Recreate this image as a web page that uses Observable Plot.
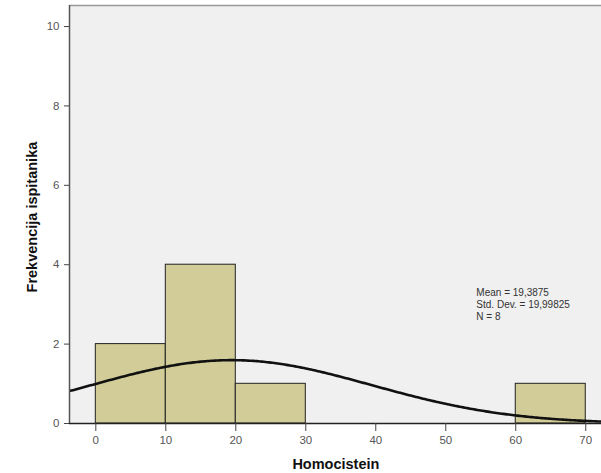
<!DOCTYPE html>
<html><head><meta charset="utf-8">
<script src="https://cdn.jsdelivr.net/npm/d3@7"></script>
<script src="https://cdn.jsdelivr.net/npm/@observablehq/plot@0.6"></script>
<style>
html,body{margin:0;padding:0;background:#fff;}
svg{display:block;}
</style></head><body>
<div id="chart"></div>
<script>
const binStarts = [0, 10, 20, 60];
const binEnds = [10, 20, 30, 70];
const counts = [2, 4, 1, 1];
const xTicks = [0, 10, 20, 30, 40, 50, 60, 70];
const yTicks = [0, 2, 4, 6, 8, 10];
const statLines = ["Mean = 19,3875", "Std. Dev. = 19,99825", "N = 8"];
const mean = 19.3875, sd = 19.99825, n = 8, binWidth = 10;

const xDomain = [-3.76, 72.25];
const yDomain = [0, 10.53];

const bars = binStarts.map((s, i) => ({x1: s, x2: binEnds[i], y: counts[i]}));
const curve = d3.range(xDomain[0], xDomain[1] + 0.25, 0.25).map(x => ({
  x, y: n * binWidth / (sd * Math.sqrt(2 * Math.PI)) * Math.exp(-0.5 * ((x - mean) / sd) ** 2)
}));

const chart = Plot.plot({
  width: 601, height: 473,
  marginLeft: 69, marginRight: 0, marginTop: 5, marginBottom: 50,
  style: {fontFamily: "Liberation Sans, Arial, sans-serif", fontSize: "11px", color: "#555", background: "#fff"},
  x: {domain: xDomain, ticks: xTicks, tickSize: 8, tickPadding: 4, label: null},
  y: {domain: yDomain, ticks: yTicks, tickSize: 5, tickPadding: 5, label: null},
  marks: [
    Plot.frame({fill: "#f0f0f0", stroke: null}),
    Plot.ruleY([yDomain[1]], {stroke: "#999", strokeWidth: 1.5}),
    Plot.rectY(bars, {x1: "x1", x2: "x2", y: "y", fill: "#d2cd98", stroke: "#222", strokeWidth: 1}),
    Plot.line(curve, {x: "x", y: "y", stroke: "#111", strokeWidth: 2.6, clip: true}),
    Plot.ruleX([xDomain[0]], {stroke: "#555", strokeWidth: 1.5}),
    Plot.ruleY([0], {stroke: "#222", strokeWidth: 1.5}),
    Plot.axisX({ticks: xTicks, tickSize: 8, tickPadding: 4, stroke: "#444", fill: "#555", fontSize: 11.5}),
    Plot.axisY({ticks: yTicks, tickSize: 5, tickPadding: 5, stroke: "#444", fill: "#555", fontSize: 11.5}),
    Plot.text(statLines, {
      x: 54.37, y: (d, i) => 3.29 - i * 0.3, text: d => d,
      textAnchor: "start", fontSize: 10, fill: "#333"
    }),
    Plot.text(["Homocistein"], {x: 34.3, y: 0, dy: 41, text: d => d, fontWeight: "bold", fontSize: 14.5, fill: "#111"}),
    Plot.text(["Frekvencija ispitanika"], {x: xDomain[0], y: 5.2, dx: -37, rotate: -90, text: d => d, fontWeight: "bold", fontSize: 14.5, fill: "#111"})
  ]
});
document.getElementById("chart").append(chart);
</script>
</body></html>
